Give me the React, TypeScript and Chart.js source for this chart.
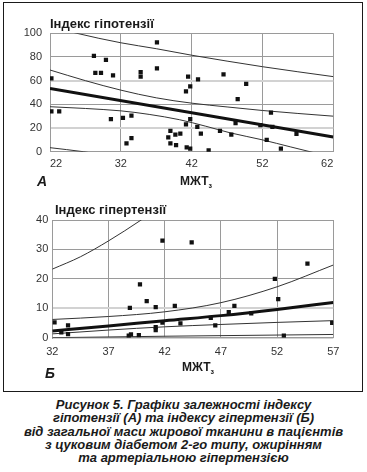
import React, { useEffect, useRef } from "react";
import { Chart, registerables } from "chart.js";
Chart.register(...registerables);

// ---- Chart A: hypotension index vs total fat mass ----
const hypoX = [22.2, 22.2, 23.3, 28.2, 28.4, 29.2, 29.9, 30.6, 30.9, 32.3, 32.8, 33.5, 33.5, 34.8, 34.8, 37.1, 37.1, 38.7, 39, 39, 39.7, 39.8, 40.4, 41.2, 41.2, 41.3, 41.5, 41.8, 41.8, 41.8, 42.8, 42.9, 43.3, 44.4, 46.0, 46.5, 47.6, 48.2, 48.5, 49.7, 51.7, 52.6, 53.2, 53.4, 54.6, 56.8];
const hypoY = [62, 34, 34, 81, 66.5, 66.5, 77.5, 27.6, 64.5, 28.5, 7, 30.4, 11.5, 67.3, 63.4, 92.4, 70.4, 12, 17.5, 7, 14.4, 5.6, 15.2, 51, 23, 3.7, 63.4, 55.2, 27.6, 2.5, 21, 61, 15.2, 1.1, 17.5, 65.4, 14.4, 24.2, 44.5, 57.2, 22.5, 10, 33, 21, 2.5, 15];
const hypoFitX = [22, 62];
const hypoFitY = [53.5, 12.4];
const hypoConfUpX = [22, 27, 32, 37, 42, 47, 52, 57, 62];
const hypoConfUpY = [69, 60, 52, 45.5, 41, 37.8, 34.8, 32.3, 30];
const hypoConfLoX = [22, 27, 32, 36, 40.3, 44, 47.4, 52, 56, 58.7, 62];
const hypoConfLoY = [38, 36.5, 34.5, 31.5, 27, 21.5, 16, 10, 4, 0, -5];
const hypoPredUpX = [22, 25.8, 32, 37, 42, 47, 52, 57, 62];
const hypoPredUpY = [106, 100, 92, 87, 81.5, 76.5, 71.8, 67.5, 63.4];
const hypoPredLoX = [22, 26.7, 30];
const hypoPredLoY = [3.4, 0, -3];
const hypoYTicks = [0, 20, 40, 60, 80, 100];
const hypoXTicks = [22, 32, 42, 52, 62];

// ---- Chart B: hypertension index vs total fat mass ----
const hyperX = [32.2, 32.8, 33.4, 33.4, 38.9, 38.8, 39.0, 39.8, 39.7, 40.4, 41.2, 41.2, 41.2, 41.8, 41.8, 42.9, 43.4, 44.4, 46.1, 46.5, 47.7, 48.2, 49.7, 51.8, 52.1, 52.6, 54.7, 56.9];
const hyperY = [5.2, 1.8, 4.2, 1.2, 10.1, 0.7, 1.1, 18.1, 0.9, 12.4, 10.4, 3.6, 2.6, 33, 5.1, 10.8, 4.9, 32.4, 6.7, 4.2, 8.7, 10.8, 8.3, 20, 13.1, 0.7, 25.2, 5.0];
const hyperFitX = [32, 37, 42, 47, 52, 57];
const hyperFitY = [2.3, 4.0, 5.8, 7.5, 9.6, 12.0];
const hyperBand1X = [32, 37, 42, 47, 52, 57];
const hyperBand1Y = [6.2, 7.2, 8.8, 11.9, 17.3, 24.7];
const hyperBand2X = [32, 37, 42, 47, 52, 57];
const hyperBand2Y = [1.3, 2.6, 3.7, 4.5, 5.2, 5.8];
const hyperBand3X = [32, 42, 52, 57];
const hyperBand3Y = [0, 0.5, 0.9, 1.1];
const hyperPredUpX = [32, 34.5, 37, 39.9, 41];
const hyperPredUpY = [23.3, 27.5, 32.9, 40, 43];
const hyperYTicks = [0, 10, 20, 30, 40];
const hyperXTicks = [32, 37, 42, 47, 52, 57];

const FONT = "'Liberation Sans', Arial, sans-serif";
const zip = (xs: number[], ys: number[]) => xs.map((x, i) => ({ x, y: ys[i] }));

function pointSet(xs: number[], ys: number[]) {
  return {
    data: zip(xs, ys),
    showLine: false,
    pointStyle: "rect" as const,
    pointRadius: 3,
    pointHoverRadius: 3,
    backgroundColor: "#111",
    borderColor: "#111",
    borderWidth: 0,
  };
}
function lineSet(xs: number[], ys: number[], w: number, color: string) {
  return {
    data: zip(xs, ys),
    showLine: true,
    pointRadius: 0,
    borderWidth: w,
    borderColor: color,
    backgroundColor: color,
    fill: false,
    cubicInterpolationMode: "monotone" as const,
  };
}

function makeOptions(cfg: {
  xMin: number; xMax: number; xTicks: number[]; yTicks: number[];
  padTop: number; padRight: number; yWidth: number; xHeight: number;
  yPad: number; xPad: number; xAlign: "center" | "inner";
  light: number[];
}) {
  return {
    animation: false as const,
    responsive: false,
    maintainAspectRatio: false,
    events: [] as any[],
    layout: { padding: { top: cfg.padTop, right: cfg.padRight, left: 0, bottom: 0 } },
    plugins: { legend: { display: false }, tooltip: { enabled: false }, title: { display: false } },
    scales: {
      x: {
        type: "linear" as const,
        min: cfg.xMin,
        max: cfg.xMax,
        afterBuildTicks: (s: any) => { s.ticks = cfg.xTicks.map((v) => ({ value: v })); },
        afterFit: (s: any) => { s.height = cfg.xHeight; },
        ticks: { font: { family: FONT, size: 11 }, color: "#333", padding: cfg.xPad, align: cfg.xAlign, maxRotation: 0 },
        grid: { color: "#9a9a9a", lineWidth: 1, drawTicks: false },
        border: { color: "#9a9a9a", width: 1 },
      },
      y: {
        type: "linear" as const,
        min: cfg.yTicks[0],
        max: cfg.yTicks[cfg.yTicks.length - 1],
        afterBuildTicks: (s: any) => { s.ticks = cfg.yTicks.map((v) => ({ value: v })); },
        afterFit: (s: any) => { s.width = cfg.yWidth; },
        ticks: { font: { family: FONT, size: 11 }, color: "#333", padding: cfg.yPad },
        grid: {
          drawTicks: false,
          color: (c: any) => (cfg.light.includes(c.tick?.value) ? "#d2d2d2" : "#9a9a9a"),
          lineWidth: (c: any) => (cfg.light.includes(c.tick?.value) ? 2 : 1),
        },
        border: { color: "#9a9a9a", width: 1 },
      },
    },
  };
}

export default function App() {
  const refA = useRef<HTMLCanvasElement>(null);
  const refB = useRef<HTMLCanvasElement>(null);

  useEffect(() => {
    const a = new Chart(refA.current!, {
      type: "scatter",
      data: {
        datasets: [
          pointSet(hypoX, hypoY),
          lineSet(hypoFitX, hypoFitY, 3, "#111"),
          lineSet(hypoConfUpX, hypoConfUpY, 1, "#333"),
          lineSet(hypoConfLoX, hypoConfLoY, 1, "#333"),
          lineSet(hypoPredUpX, hypoPredUpY, 1, "#333"),
          lineSet(hypoPredLoX, hypoPredLoY, 1, "#333"),
        ] as any,
      },
      options: makeOptions({
        xMin: 22, xMax: 62, xTicks: hypoXTicks, yTicks: hypoYTicks,
        padTop: 33.3, padRight: 33.7, yWidth: 50, xHeight: 180 - 151.7,
        yPad: 8, xPad: 6, xAlign: "inner", light: [20, 60],
      }) as any,
    });
    const b = new Chart(refB.current!, {
      type: "scatter",
      data: {
        datasets: [
          pointSet(hyperX, hyperY),
          lineSet(hyperFitX, hyperFitY, 3, "#111"),
          lineSet(hyperBand1X, hyperBand1Y, 1, "#333"),
          lineSet(hyperBand2X, hyperBand2Y, 1, "#333"),
          lineSet(hyperBand3X, hyperBand3Y, 1, "#333"),
          lineSet(hyperPredUpX, hyperPredUpY, 1, "#333"),
        ] as any,
      },
      options: makeOptions({
        xMin: 32, xMax: 57, xTicks: hyperXTicks, yTicks: hyperYTicks,
        padTop: 35, padRight: 33.7, yWidth: 52.3, xHeight: 195 - 152.7,
        yPad: 4, xPad: 8, xAlign: "center", light: [0, 10],
      }) as any,
    });
    return () => { a.destroy(); b.destroy(); };
  }, []);

  const abs = (o: React.CSSProperties): React.CSSProperties => ({ position: "absolute", margin: 0, ...o });
  const bold: React.CSSProperties = { fontFamily: FONT, fontWeight: "bold", color: "#1a1a1a", whiteSpace: "nowrap", lineHeight: 1 };

  return (
    <div style={{ position: "fixed", left: 0, top: 0, width: 367, height: 472, background: "#fff", overflow: "hidden" }}>
      <div style={abs({ left: 3, top: 2, width: 360, height: 390, border: "1.5px solid #1a1a1a", boxSizing: "border-box" })} />
      <canvas ref={refA} width={367} height={180} style={abs({ left: 0, top: 0, width: 367, height: 180 })} />
      <canvas ref={refB} width={367} height={195} style={abs({ left: 0, top: 185, width: 367, height: 195 })} />

      <div style={abs({ ...bold, left: 50, top: 17, fontSize: 13 })}>Індекс гіпотензії</div>
      <div style={abs({ ...bold, left: 37, top: 174, fontSize: 14, fontStyle: "italic" })}>А</div>
      <div style={abs({ ...bold, left: 180, top: 175, fontSize: 12 })}>МЖТ<span style={{ fontSize: 7, verticalAlign: "-3px" }}>з</span></div>

      <div style={abs({ ...bold, left: 55, top: 203, fontSize: 13 })}>Індекс гіпертензії</div>
      <div style={abs({ ...bold, left: 45, top: 366, fontSize: 14, fontStyle: "italic" })}>Б</div>
      <div style={abs({ ...bold, left: 182, top: 361, fontSize: 12 })}>МЖТ<span style={{ fontSize: 7, verticalAlign: "-3px" }}>з</span></div>

      <div style={abs({ left: 0, top: 398, width: 367, textAlign: "center", fontFamily: FONT, fontWeight: "bold", fontStyle: "italic", fontSize: 13, lineHeight: "13.3px", color: "#1a1a1a" })}>
        Рисунок 5. Графіки залежності індексу<br />
        гіпотензії (А) та індексу гіпертензії (Б)<br />
        від загальної маси жирової тканини в пацієнтів<br />
        з цуковим діабетом 2-го типу, ожирінням<br />
        та артеріальною гіпертензією
      </div>
    </div>
  );
}
